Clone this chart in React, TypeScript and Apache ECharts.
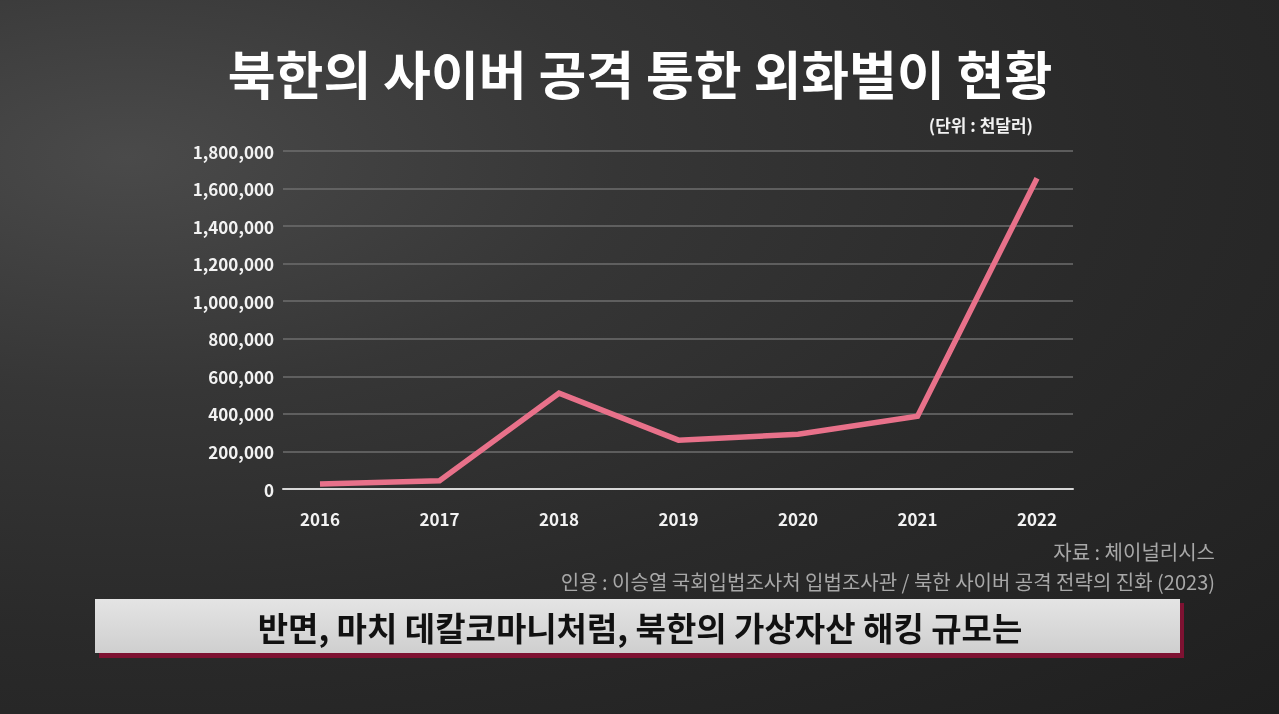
import React, { useEffect, useRef } from "react";
import * as echarts from "echarts";

// 연도별 외화벌이 (단위: 천달러)
const years = ["2016", "2017", "2018", "2019", "2020", "2021", "2022"];
const amounts = [26000, 44000, 510000, 260000, 292000, 388000, 1655000];
const yTicks = [0, 200000, 400000, 600000, 800000, 1000000, 1200000, 1400000, 1600000, 1800000];

const FONT = '"Noto Sans CJK KR", "Noto Sans", sans-serif';

export default function App() {
  const chartRef = useRef<HTMLDivElement>(null);

  useEffect(() => {
    if (!chartRef.current) return;
    const chart = echarts.init(chartRef.current, null, { renderer: "svg" });

    const yMax = yTicks[yTicks.length - 1];
    const yStep = yTicks[1] - yTicks[0];

    chart.setOption({
      animation: false,
      backgroundColor: "transparent",
      textStyle: { fontFamily: FONT },
      grid: [
        // 눈금선용 넓은 영역
        { left: 283, right: 206, top: 151, bottom: 225 },
        // 데이터용 영역
        { left: 320, right: 242, top: 151, bottom: 225 },
      ],
      xAxis: [
        {
          gridIndex: 0,
          type: "category",
          data: years,
          boundaryGap: false,
          axisLine: { show: true, lineStyle: { color: "#d8d8d8", width: 2 } },
          axisTick: { show: false },
          axisLabel: { show: false },
        },
        {
          gridIndex: 1,
          type: "category",
          data: years,
          boundaryGap: false,
          axisLine: { show: false },
          axisTick: { show: false },
          axisLabel: {
            color: "#f2f2f2",
            fontSize: 17,
            fontWeight: "bold",
            fontFamily: FONT,
            margin: 21,
          },
        },
      ],
      yAxis: [
        {
          gridIndex: 0,
          type: "value",
          min: 0,
          max: yMax,
          interval: yStep,
          axisLine: { show: false },
          axisTick: { show: false },
          splitLine: { lineStyle: { color: "#6e6e6e", width: 1.5 } },
          axisLabel: {
            color: "#f2f2f2",
            fontSize: 17,
            fontWeight: "bold",
            fontFamily: FONT,
            margin: 9,
            formatter: (v: number) => v.toLocaleString("en-US"),
          },
        },
        {
          gridIndex: 1,
          type: "value",
          min: 0,
          max: yMax,
          interval: yStep,
          show: false,
          splitLine: { show: false },
        },
      ],
      series: [
        {
          type: "line",
          xAxisIndex: 1,
          yAxisIndex: 1,
          data: amounts,
          symbol: "none",
          lineStyle: { color: "#e8718a", width: 5.5, join: "miter" },
        },
      ],
      graphic: [
        {
          type: "text",
          x: 640,
          y: 72,
          style: {
            text: "북한의 사이버 공격 통한 외화벌이 현황",
            fill: "#ffffff",
            font: `bold 52px ${FONT}`,
            lineHeight: 52,
            align: "center",
            verticalAlign: "middle",
          },
        },
        {
          type: "text",
          x: 1033,
          y: 124,
          style: {
            text: "(단위 : 천달러)",
            fill: "#f2f2f2",
            font: `bold 17px ${FONT}`,
            lineHeight: 17,
            align: "right",
            verticalAlign: "middle",
          },
        },
        {
          type: "text",
          x: 1215,
          y: 551,
          style: {
            text: "자료 : 체이널리시스",
            fill: "#a8a8a8",
            font: `20px ${FONT}`,
            lineHeight: 20,
            align: "right",
            verticalAlign: "middle",
          },
        },
        {
          type: "text",
          x: 1215,
          y: 581,
          style: {
            text: "인용 : 이승열 국회입법조사처 입법조사관 / 북한 사이버 공격 전략의 진화 (2023)",
            fill: "#a8a8a8",
            font: `20px ${FONT}`,
            lineHeight: 20,
            align: "right",
            verticalAlign: "middle",
          },
        },
        {
          type: "rect",
          shape: { x: 99, y: 603, width: 1085, height: 55 },
          style: { fill: "#7e1232" },
        },
        {
          type: "rect",
          shape: { x: 95, y: 599, width: 1085, height: 54 },
          style: {
            fill: new echarts.graphic.LinearGradient(0, 0, 0, 1, [
              { offset: 0, color: "#e4e4e4" },
              { offset: 1, color: "#cfcfcf" },
            ]),
          },
        },
        {
          type: "text",
          x: 640,
          y: 627,
          style: {
            text: "반면, 마치 데칼코마니처럼, 북한의 가상자산 해킹 규모는",
            fill: "#111111",
            font: `bold 33px ${FONT}`,
            lineHeight: 33,
            align: "center",
            verticalAlign: "middle",
          },
        },
      ],
    });

    return () => {
      chart.dispose();
    };
  }, []);

  return (
    <div
      style={{
        position: "fixed",
        left: 0,
        top: 0,
        width: 1279,
        height: 714,
        background:
          "radial-gradient(ellipse at 10% 22%, #4a4a4a 0%, #363636 30%, #2a2a2a 60%, #1f1f1f 100%)",
      }}
    >
      <div ref={chartRef} style={{ width: 1279, height: 714 }} />
    </div>
  );
}
